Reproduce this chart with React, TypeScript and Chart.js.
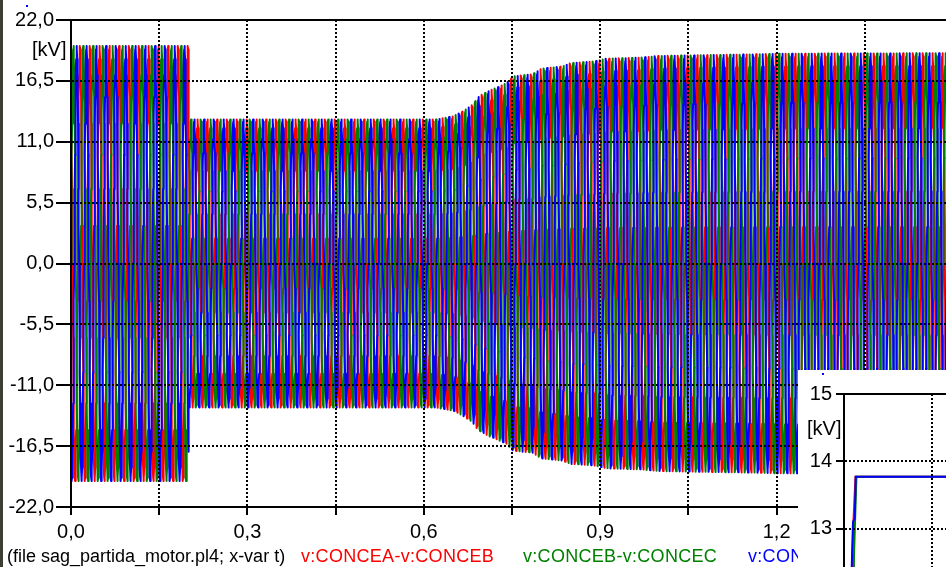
import React, { useEffect, useRef } from "react";
import { Chart, registerables } from "chart.js";

Chart.register(...registerables);

const FONT = "'Liberation Sans', Arial, Helvetica, sans-serif";

// ---------- main plot: line-to-line voltages ----------
const seriesNames = ["v:CONCEA-v:CONCEB", "v:CONCEB-v:CONCEC", "v:CONCEC-v:CONCEA"];
const seriesColors = ["#ff0000", "#008000", "#0000ff"];
const seriesPhaseDeg = [120, 0, 240];
const frequencyHz = 60;
const timeEnd = 1.5;
const samplesPerCycle = 36;

// peak envelope (kV)
const envelopeTime = [0, 0.2, 0.2, 0.62, 0.65, 0.665, 0.682, 0.694, 0.711, 0.725, 0.741, 0.752, 0.785, 0.8, 0.835, 0.85, 0.89, 0.91, 0.97, 1.0, 1.17, 1.2, 1.5];
const envelopePeak = [19.65, 19.65, 13.0, 13.0, 13.3, 13.7, 14.3, 15.1, 15.6, 15.9, 16.3, 16.9, 17.1, 17.6, 17.8, 18.1, 18.25, 18.5, 18.6, 18.75, 18.9, 18.95, 19.0];

const xTickValues = [0, 0.3, 0.6, 0.9, 1.2, 1.5];
const xTickLabels = ["0,0", "0,3", "0,6", "0,9", "1,2", "1,5"];
const yTickValues = [-22, -16.5, -11, -5.5, 0, 5.5, 11, 16.5, 22];
const yTickLabels = ["-22,0", "-16,5", "-11,0", "-5,5", "0,0", "5,5", "11,0", "16,5", "22,0"];

// ---------- inset plot: RMS start-up ----------
const insetTimeAB = [0, 0.0065, 0.0135, 0.016, 0.0195, 0.2];
const insetRmsAB = [0, 3.0, 12.42, 13.1, 13.77, 13.77];
const insetTimeBC = [0, 0.007, 0.017, 0.0211, 0.2];
const insetRmsBC = [0, 3.0, 12.6, 13.77, 13.77];
const insetTimeCA = [0, 0.006, 0.0131, 0.0153, 0.0182, 0.0199, 0.2];
const insetRmsCA = [0, 3.0, 12.42, 13.1, 13.15, 13.77, 13.77];
const insetYTickValues = [12, 13, 14, 15];
const insetYTickLabels = ["12", "13", "14", "15"];

function envelopeAt(t: number): number {
  for (let i = 1; i < envelopeTime.length; i++) {
    if (t <= envelopeTime[i]) {
      const t0 = envelopeTime[i - 1];
      const t1 = envelopeTime[i];
      const f = t1 > t0 ? (t - t0) / (t1 - t0) : 1;
      return envelopePeak[i - 1] + f * (envelopePeak[i] - envelopePeak[i - 1]);
    }
  }
  return envelopePeak[envelopePeak.length - 1];
}

function buildWave(phaseDeg: number) {
  const pts: { x: number; y: number }[] = [];
  const dt = 1 / (frequencyHz * samplesPerCycle);
  const n = Math.round(timeEnd / dt);
  const ph = (phaseDeg * Math.PI) / 180;
  for (let i = 0; i <= n; i++) {
    const t = i * dt;
    pts.push({ x: t, y: envelopeAt(t) * Math.sin(2 * Math.PI * frequencyHz * t + ph) });
  }
  return pts;
}

function lookup(values: number[], labels: string[], v: number) {
  for (let i = 0; i < values.length; i++) if (Math.abs(values[i] - v) < 1e-6) return labels[i];
  return "";
}

const framePlugin = {
  id: "topFrame",
  afterDraw(chart: any) {
    const { ctx, chartArea } = chart;
    ctx.save();
    ctx.strokeStyle = "#000";
    ctx.lineWidth = 2;
    ctx.beginPath();
    ctx.moveTo(chartArea.left - 1, chartArea.top);
    ctx.lineTo(chartArea.right, chartArea.top);
    ctx.stroke();
    ctx.restore();
  },
};

// main chart geometry
const MAIN_W = 953;
const MAIN_H = 567;
const MAIN_LEFT = 71;
const MAIN_TOP = 20;
const MAIN_BOTTOM = 507;

// inset geometry
const INSET_LEFT = 798;
const INSET_TOP = 370;
const INSET_W = 311;
const INSET_H = 260;
const INSET_AXIS_W = 46;
const INSET_PLOT_TOP = 24;
const INSET_PLOT_BOTTOM = 226;

function gridOpts(tickLength: number) {
  return {
    color: "#000",
    lineWidth: 2,
    z: 1,
    tickLength,
    tickColor: "#000",
    tickWidth: 2,
    tickBorderDash: [],
  };
}

export default function App() {
  const mainRef = useRef<HTMLCanvasElement>(null);
  const insetRef = useRef<HTMLCanvasElement>(null);

  useEffect(() => {
    const order = [2, 1, 0];
    const main = new Chart(mainRef.current as HTMLCanvasElement, {
      type: "line",
      data: {
        datasets: seriesNames.map((name, i) => ({
          label: name,
          data: buildWave(seriesPhaseDeg[i]),
          borderColor: seriesColors[i],
          borderWidth: 2,
          pointRadius: 0,
          fill: false,
          tension: 0,
          borderJoinStyle: "round" as const,
          order: order[i],
        })),
      },
      options: {
        animation: false,
        responsive: false,
        devicePixelRatio: 1,
        parsing: false,
        normalized: true,
        events: [],
        layout: { padding: { top: MAIN_TOP, left: 0, right: 0, bottom: 0 } },
        plugins: { legend: { display: false }, tooltip: { enabled: false } },
        scales: {
          x: {
            type: "linear",
            min: 0,
            max: timeEnd,
            afterFit: (s: any) => {
              s.height = MAIN_H - MAIN_BOTTOM;
              s.paddingLeft = 0;
              s.paddingRight = 0;
            },
            ticks: {
              stepSize: 0.15,
              autoSkip: false,
              maxRotation: 0,
              padding: 5,
              color: "#000",
              font: { family: FONT, size: 20 },
              callback: (v: any) => lookup(xTickValues, xTickLabels, Number(v)),
            },
            grid: gridOpts(8),
            border: { display: true, color: "#000", width: 2, dash: [2, 2], z: 1 },
          },
          y: {
            type: "linear",
            min: -22,
            max: 22,
            afterFit: (s: any) => {
              s.width = MAIN_LEFT;
              s.paddingTop = 0;
              s.paddingBottom = 0;
            },
            ticks: {
              stepSize: 5.5,
              autoSkip: false,
              padding: 2,
              color: "#000",
              font: { family: FONT, size: 20 },
              callback: (v: any) => lookup(yTickValues, yTickLabels, Number(v)),
            },
            grid: gridOpts(15),
            border: { display: true, color: "#000", width: 2, dash: [2, 2], z: 1 },
          },
        },
      },
      plugins: [framePlugin],
    });

    const insetSeries = [
      { t: insetTimeAB, v: insetRmsAB, color: seriesColors[0], order: 2 },
      { t: insetTimeBC, v: insetRmsBC, color: seriesColors[1], order: 1 },
      { t: insetTimeCA, v: insetRmsCA, color: seriesColors[2], order: 0 },
    ];
    const inset = new Chart(insetRef.current as HTMLCanvasElement, {
      type: "line",
      data: {
        datasets: insetSeries.map((s, i) => ({
          label: seriesNames[i],
          data: s.t.map((t, k) => ({ x: t, y: s.v[k] })),
          borderColor: s.color,
          borderWidth: 2,
          pointRadius: 0,
          fill: false,
          tension: 0,
          order: s.order,
        })),
      },
      options: {
        animation: false,
        responsive: false,
        devicePixelRatio: 1,
        parsing: false,
        events: [],
        layout: { padding: { top: INSET_PLOT_TOP, left: 0, right: 0, bottom: 0 } },
        plugins: { legend: { display: false }, tooltip: { enabled: false } },
        scales: {
          x: {
            type: "linear",
            min: 0,
            max: 0.45,
            afterFit: (s: any) => {
              s.height = INSET_H - INSET_PLOT_BOTTOM;
              s.paddingLeft = 0;
              s.paddingRight = 0;
            },
            ticks: {
              stepSize: 0.15,
              autoSkip: false,
              maxRotation: 0,
              color: "#000",
              font: { family: FONT, size: 20 },
              callback: (v: any) => lookup(xTickValues, xTickLabels, Number(v)),
            },
            grid: gridOpts(8),
            border: { display: true, color: "#000", width: 2, dash: [2, 2], z: 1 },
          },
          y: {
            type: "linear",
            min: 12,
            max: 15,
            afterFit: (s: any) => {
              s.width = INSET_AXIS_W;
              s.paddingTop = 0;
              s.paddingBottom = 0;
            },
            ticks: {
              stepSize: 1,
              autoSkip: false,
              padding: 4,
              color: "#000",
              font: { family: FONT, size: 20 },
              callback: (v: any) => lookup(insetYTickValues, insetYTickLabels, Number(v)),
            },
            grid: gridOpts(8),
            border: { display: true, color: "#000", width: 2, dash: [2, 2], z: 1 },
          },
        },
      },
      plugins: [framePlugin],
    });

    return () => {
      main.destroy();
      inset.destroy();
    };
  }, []);

  const textBase: React.CSSProperties = {
    position: "absolute",
    fontFamily: FONT,
    whiteSpace: "nowrap",
  };
  const legendStyle: React.CSSProperties = {
    ...textBase,
    top: 547,
    fontSize: 18,
    lineHeight: "18px",
    letterSpacing: "0.3px",
  };

  return (
    <div
      style={{
        position: "fixed",
        left: 0,
        top: 0,
        width: 946,
        height: 567,
        overflow: "hidden",
        background: "#fff",
      }}
    >
      <canvas
        ref={mainRef}
        width={MAIN_W}
        height={MAIN_H}
        style={{ position: "absolute", left: 0, top: 0, width: MAIN_W, height: MAIN_H }}
      />
      <div style={{ ...textBase, left: 32, top: 39, fontSize: 20, lineHeight: "20px", color: "#000" }}>[kV]</div>
      <div style={{ position: "absolute", left: 26, top: 5, width: 2, height: 2, background: "#0000ff" }} />
      <div style={{ ...legendStyle, left: 7, color: "#000", letterSpacing: "0px" }}>
        (file sag_partida_motor.pl4; x-var t)
      </div>
      <div style={{ ...legendStyle, left: 301, color: seriesColors[0] }}>{seriesNames[0]}</div>
      <div style={{ ...legendStyle, left: 523, color: seriesColors[1] }}>{seriesNames[1]}</div>
      <div style={{ ...legendStyle, left: 748, color: seriesColors[2] }}>{seriesNames[2]}</div>
      <div
        style={{
          position: "absolute",
          left: INSET_LEFT,
          top: INSET_TOP,
          width: 946 - INSET_LEFT,
          height: 567 - INSET_TOP,
          overflow: "hidden",
          background: "#fff",
        }}
      >
        <canvas
          ref={insetRef}
          width={INSET_W}
          height={INSET_H}
          style={{ position: "absolute", left: 0, top: 0, width: INSET_W, height: INSET_H }}
        />
        <div style={{ ...textBase, left: 9, top: 48, fontSize: 20, lineHeight: "20px", color: "#000" }}>[kV]</div>
        <div style={{ position: "absolute", left: 24, top: 3, width: 2, height: 2, background: "#0000ff" }} />
      </div>
      <div style={{ position: "absolute", left: 0, top: 0, width: 3, height: 567, background: "#3d3d33" }} />
    </div>
  );
}
